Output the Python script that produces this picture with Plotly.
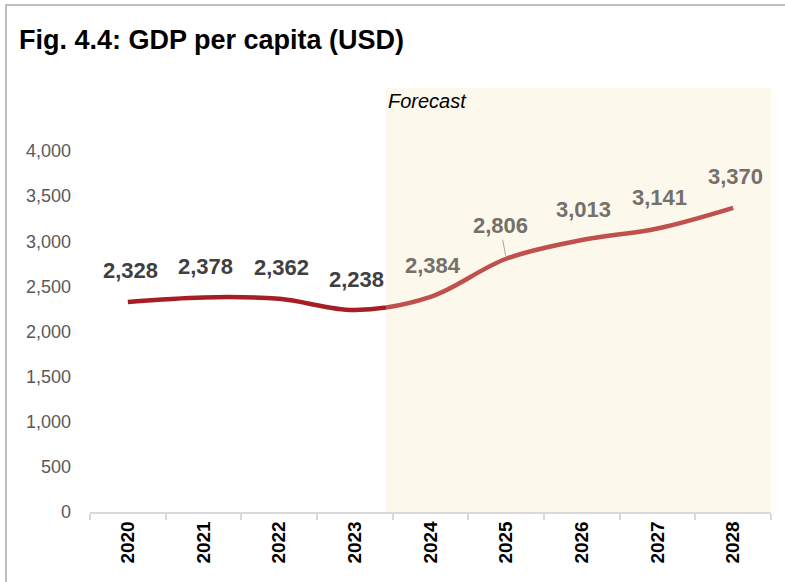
import plotly.graph_objects as go

# GDP per capita (USD), actuals 2020-2023 and forecast 2024-2028
years = ["2020", "2021", "2022", "2023", "2024", "2025", "2026", "2027", "2028"]
gdp_per_capita = [2328, 2378, 2362, 2238, 2384, 2806, 3013, 3141, 3370]
n_actual = 4
y_ticks = [0, 500, 1000, 1500, 2000, 2500, 3000, 3500, 4000]

FONT = "Liberation Sans, Arial, sans-serif"
DARK_RED = "#A51E23"
LIGHT_RED = "#C0504D"
ACTUAL_TXT = "#404040"
FCST_TXT = "#74706A"
SHADE = "#FDF8EC"

W, H = 785, 582
L, R, T, B = 90, 14, 88, 70
plot_w = W - L - R
n = len(years)
slot = plot_w / n
split_px = 386                                  # left edge of forecast band
split_frac = (split_px - L) / plot_w
split_x = -0.5 + (split_px - L) / slot          # same edge in category units

idx = list(range(n))
fig = go.Figure()

# invisible trace that carries the category axis
fig.add_trace(go.Scatter(x=years, y=gdp_per_capita, mode="markers",
                         marker=dict(opacity=0), hoverinfo="skip",
                         showlegend=False, xaxis="x", yaxis="y"))
# same smoothed line twice, each clipped to its own x window
fig.add_trace(go.Scatter(x=idx, y=gdp_per_capita, mode="lines",
                         line=dict(color=DARK_RED, width=4.5, shape="spline"),
                         showlegend=False, xaxis="x2", yaxis="y"))
fig.add_trace(go.Scatter(x=idx, y=gdp_per_capita, mode="lines",
                         line=dict(color=LIGHT_RED, width=4.5, shape="spline"),
                         showlegend=False, xaxis="x3", yaxis="y"))

# value labels
for i, v in enumerate(gdp_per_capita):
    col = ACTUAL_TXT if i < n_actual else FCST_TXT
    txt = f"{v:,}"
    if years[i] == "2025":
        fig.add_annotation(x=i, y=v, xref="x", yref="y", text=txt,
                           showarrow=True, arrowhead=0, arrowwidth=1,
                           arrowcolor="#A6A6A6", ax=-6, ay=-33, standoff=3,
                           font=dict(family=FONT, size=22, color=col, weight="bold"))
    else:
        fig.add_annotation(x=i, y=v, xref="x", yref="y", text=txt,
                           showarrow=False, yshift=31,
                           xshift=3 if i == 0 else 2,
                           font=dict(family=FONT, size=22, color=col, weight="bold"))

# forecast band and its caption
fig.add_shape(type="rect", xref="x", yref="paper", x0=split_x, x1=n - 0.5,
              y0=0, y1=1, fillcolor=SHADE, line=dict(width=0), layer="below")
fig.add_annotation(x=split_x, y=(H - B - 101) / (H - T - B), xref="x", yref="paper",
                   text="<i>Forecast</i>", showarrow=False, xanchor="left",
                   yanchor="middle", xshift=0,
                   font=dict(family=FONT, size=20, color="#000000"))

# outer frame
plot_h = H - T - B
fig.add_shape(type="rect", xref="paper", yref="paper",
              x0=(6 - L) / plot_w, x1=(W + 20 - L) / plot_w,
              y0=-0.5, y1=(H - B - 5) / plot_h,
              line=dict(color="#BFBFBF", width=2), fillcolor="rgba(0,0,0,0)",
              layer="above")

y_top = (H - B - T) / ((H - B - 151) / 4000)

fig.update_layout(
    width=W, height=H,
    margin=dict(l=L, r=R, t=T, b=B, pad=0),
    paper_bgcolor="white", plot_bgcolor="rgba(0,0,0,0)",
    showlegend=False,
    title=dict(text="<b>Fig. 4.4: GDP per capita (USD)</b>",
               x=19 / W, xanchor="left", xref="container",
               y=1 - 40 / H, yanchor="middle", yref="container",
               font=dict(family=FONT, size=27, color="#000000")),
    xaxis=dict(type="category", categoryorder="array", categoryarray=years,
               range=[-0.5, n - 0.5], domain=[0, 1],
               showline=True, linecolor="#D9D9D9", linewidth=1.5,
               ticks="outside", tickson="boundaries", ticklen=6,
               tickcolor="#D9D9D9", tickwidth=1.5,
               tickangle=-90, showgrid=False, zeroline=False,
               tickfont=dict(family=FONT, size=19, color="#000000", weight="bold")),
    xaxis2=dict(range=[-0.5, split_x], domain=[0, split_frac], visible=False,
                anchor="y", fixedrange=True),
    xaxis3=dict(range=[split_x, n - 0.5], domain=[split_frac, 1], visible=False,
                anchor="y", fixedrange=True),
    yaxis=dict(range=[0, y_top], tickvals=y_ticks,
               ticktext=[f"{v:,}" for v in y_ticks],
               showgrid=False, zeroline=False, showline=False,
               ticks="", ticklabelstandoff=18,
               tickfont=dict(family=FONT, size=18, color="#595959")),
)

fig.write_html("out.html")
